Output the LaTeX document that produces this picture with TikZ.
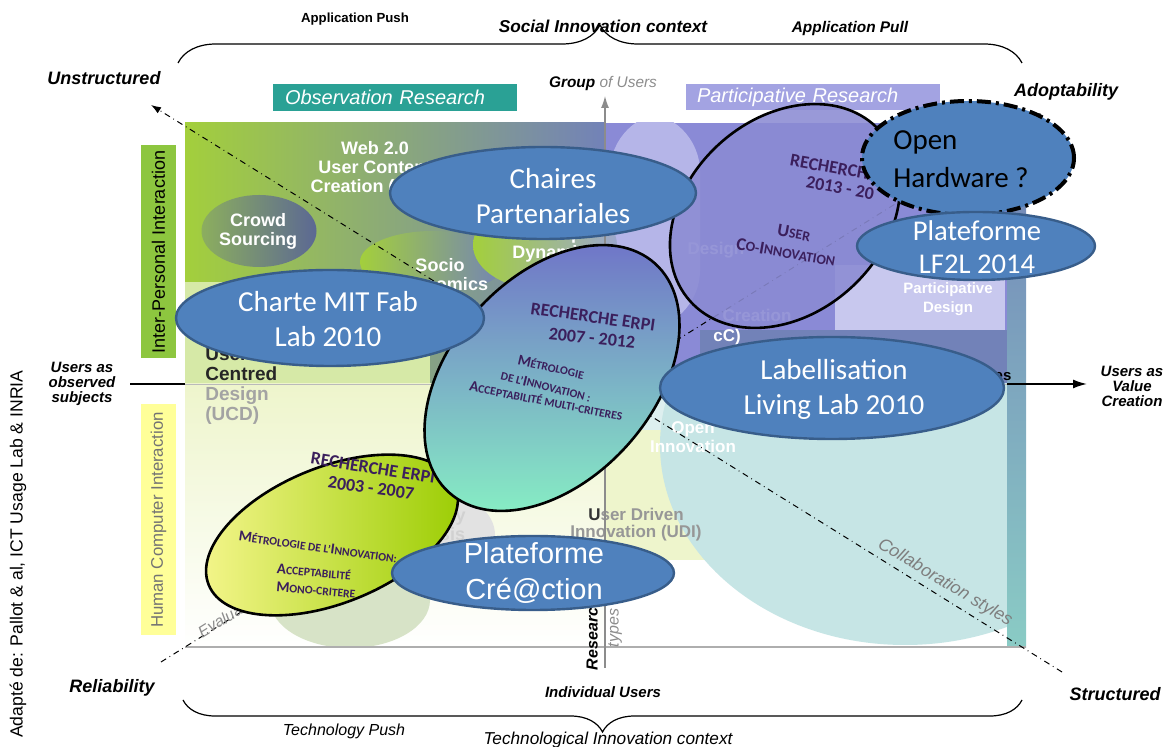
\documentclass[tikz,border=0pt]{standalone}
\usepackage{fontspec}
\setmainfont{Liberation Sans}
\newfontfamily\calfont{Carlito}
\usetikzlibrary{arrows.meta,shapes.geometric,decorations.pathreplacing}
\definecolor{llBlue}{HTML}{4F81BD}
\definecolor{llEdge}{HTML}{385D8A}
\definecolor{llTeal}{HTML}{2AA195}
\definecolor{llLav}{HTML}{A3A3E2}
\definecolor{llGreen}{HTML}{8DC63F}
\definecolor{llLime}{HTML}{A3CF3C}
\definecolor{llOlive}{HTML}{8CAE5E}
\definecolor{llSlate}{HTML}{7282B8}
\definecolor{llYellow}{HTML}{FFFF99}
\definecolor{llPurple}{HTML}{8A8AD6}
\definecolor{llViolet}{HTML}{6E6EC8}
\definecolor{llMint}{HTML}{86EBC4}
\definecolor{llInk}{HTML}{3B1F5C}
\definecolor{llGrey}{HTML}{8C8C8C}
\definecolor{llAqua}{HTML}{B3DCDC}
\definecolor{llPale}{HTML}{EEF5CC}
\definecolor{llSun}{HTML}{F6F68E}
\definecolor{llLeaf}{HTML}{99CC00}
\newcommand{\fsz}[2]{\fontsize{#1}{#2}\selectfont}
\newcommand{\scw}[2]{{\fsz{#1}{#1}#2}}
\tikzset{
  >={Latex[length=5pt,width=3.5pt]},
  bubble/.style={ellipse, draw=llEdge, line width=1.2pt, fill=llBlue, inner sep=0pt},
  btxt/.style={font=\calfont\fsz{14.5}{17.5}, text=white, align=center, inner sep=0pt},
  erpi/.style={ellipse, draw=black, line width=1.3pt, inner sep=0pt},
  inkcap/.style={text=llInk, font=\calfont\bfseries\fsz{9}{9}, inner sep=0pt},
  inksc/.style={text=llInk, font=\calfont\bfseries\fsz{5.8}{6}, inner sep=0pt},
  blob/.style={ellipse, inner sep=0pt},
  soft/.style={font=\bfseries\fsz{9}{9.5}, text=white, align=center, inner sep=0pt},
  faint/.style={font=\bfseries\fsz{8.5}{8.5}, text=llGrey!90, align=center, inner sep=0pt},
  band/.style={font=\itshape\fsz{10}{10}, text=white, inner sep=0pt},
  pole/.style={font=\bfseries\itshape\fsz{9}{9}, inner sep=0pt},
  users/.style={font=\bfseries\itshape\fsz{7.5}{7.5}, align=center, inner sep=0pt},
  diag/.style={dash dot, line width=0.5pt},
  brc/.style={decorate, line width=0.6pt},
}
\begin{document}
\begin{tikzpicture}[x=0.5pt,y=-0.5pt]
\useasboundingbox (0,0) rectangle (1173,747);
% matrix background
\begin{scope}
  \clip (185,123) rectangle (1026,648);
  \fill[left color=llLime, middle color=llOlive, right color=llSlate] (185,123) rectangle (605,384);
  \fill[llLime!45] (185,282) rectangle (430,384);
  \fill[top color=llPale, bottom color=white] (185,384) rectangle (605,648);
  \fill[llPurple] (605,123) rectangle (1007,384);
  \fill[llLav!80, rounded corners=30pt] (610,112) rectangle (700,330);
  \fill[llLav!60] (835,265) rectangle (1005,335);
  \fill[llSlate] (700,330) rectangle (1007,384);
  \fill[white] (605,384) rectangle (1007,648);
  \fill[llAqua!45] (605,384) rectangle (1007,560);
  \fill[llPale] (605,430) rectangle (790,560);
  \begin{scope}
    \clip (605,384) rectangle (1007,648);
    \fill[llAqua!75] (905,445) ellipse [x radius=245, y radius=200];
  \end{scope}
  \fill[top color=llSlate, bottom color=llTeal!55] (1007,123) rectangle (1026,648);
  \fill[llGrey!25] (440,535) ellipse [x radius=55, y radius=42];
  \fill[llOlive!35] (350,600) ellipse [x radius=80, y radius=48];
\end{scope}
\coordinate (bL) at (185,647);
\coordinate (bR) at (1026,647);
\draw[llGrey!70, line width=1pt] (bL) -- (bR);

% blobs of the top-left quadrant
\node[blob, left color=llOlive, right color=llSlate!80!black, minimum width=57.5pt, minimum height=36pt] (crowd) at (259,231) {};
\node[blob, left color=llLime, right color=llSlate, minimum width=73pt, minimum height=31pt] (socio) at (433,262) {};
\node[blob, left color=llLime, right color=llSlate!70, minimum width=72pt, minimum height=45pt] (group) at (545,245) {};
\node[soft] (crowdT) at (258,231) {Crowd\\Sourcing};
\node[soft] (webT) at (375,169) {Web 2.0\\User Content\\Creation (UCC)};
\node[soft] (socioT) at (440,275) {Socio\\Economics};
\node[soft] (groupT) at (555,245) {Group\\Dynamics};
\node[font=\bfseries\fsz{9.5}{10}, align=left, inner sep=0pt, anchor=west] (ucdT) at (205,386)
  {\textcolor{black!85}{User}\\\textcolor{black!85}{Centred}\\\textcolor{llGrey!80}{Design}\\\textcolor{llGrey!80}{(UCD)}};
\node[soft, text=llGrey!40] (usaT) at (428,526) {Usability\\Analysis};
\node[faint] (udiT) at (636,525) {\textcolor{black!80}{U}ser Driven\\Innovation (UDI)};
\node[soft, font=\bfseries\fsz{8.5}{9.5}] (openT) at (693,437) {Open\\Innovation};
\node[soft, font=\bfseries\fsz{7.5}{9.5}] (pdT) at (948,299) {Participative\\Design};
\node[soft, font=\bfseries\fsz{8.5}{8.5}] (cocT) at (727,337) {cC)};
\node[soft, font=\bfseries\fsz{8.5}{8.5}, text=white!80!llLav] (creaT) at (757,315) {Creation};
\node[soft, font=\bfseries\fsz{8.5}{8.5}, text=white!80!llLav] (desT) at (716,250) {Design};
\node[font=\bfseries\fsz{7.5}{7.5}, inner sep=0pt] (esT) at (1003,377) {es};

% side bars and research boxes
\node[fill=llGreen, rotate=90, minimum width=106.5pt, minimum height=17.5pt, inner sep=0pt, font=\fsz{9}{9}] (ipi) at (158.5,252) {Inter-Personal Interaction};
\node[fill=llYellow, rotate=90, minimum width=115.5pt, minimum height=17.5pt, inner sep=0pt, font=\fsz{8.4}{9}, text=black!55] (hci) at (158.5,520) {Human Computer Interaction};
\node[band, fill=llTeal, minimum height=13.5pt, text width=110pt, inner xsep=6pt, align=left] (obs) at (395,97.5) {Observation Research};
\node[band, fill=llLav, minimum height=13pt, text width=116pt, inner xsep=5.5pt, align=left] (par) at (813,97) {Participative Research};

% axes
\coordinate (hL) at (130,384);
\coordinate (mL) at (185,384);
\coordinate (mR) at (1007,384);
\coordinate (hR) at (1087,384);
\draw[line width=0.8pt] (hL) -- (mL);
\draw[llGrey!60, line width=0.4pt] (mL) -- (mR);
\draw[line width=0.8pt, -{Latex[length=7pt,width=4.5pt]}] (mR) -- (hR);
\coordinate (vB) at (605,668);
\coordinate (vT) at (605,96);
\draw[llGrey, line width=0.6pt, -{Latex[length=6pt,width=4pt]}] (vB) -- (vT);
\node[font=\bfseries\itshape\fsz{7.7}{8}, inner sep=0pt] (grpT) at (603,84) {Group \textcolor{llGrey}{\mdseries of Users}};
\node[font=\bfseries\itshape\fsz{8}{8}, rotate=90, inner sep=0pt] (resT) at (592,634) {Research};
\node[font=\itshape\fsz{8}{8}, text=llGrey, rotate=90, inner sep=0pt] (typT) at (615,628) {types};

% diagonals
\coordinate (uS) at (151,105);
\coordinate (sT) at (1062,672);
\coordinate (rE) at (161,662);
\coordinate (aD) at (1041,113);
\draw[diag, ->] (sT) -- (uS);
\draw[diag, ->] (rE) -- (aD);
\node[font=\itshape\fsz{8}{8}, text=llGrey, rotate=32, inner sep=0pt] (evT) at (231,614) {Evaluation};
\node[font=\itshape\fsz{8.8}{8.8}, text=llGrey!90!black, rotate=-31, inner sep=0pt] (colT) at (945,583) {Collaboration styles};

% research ellipses
\node[erpi, minimum width=133pt, minimum height=68pt, rotate=22, left color=llSun, right color=llLeaf] (e03) at (332,535) {};
\node[inkcap, rotate=-9] (e03a) at (373,468) {RECHERCHE ERPI};
\node[inkcap, rotate=-8] (e03b) at (371,488) {2003 - 2007};
\node[inksc, rotate=-8] (e03c) at (318,547) {\scw{7.5}{M}ÉTROLOGIE DE L’\scw{7.5}{I}NNOVATION:};
\node[inksc, rotate=-5] (e03d) at (314,572) {\scw{7.5}{A}CCEPTABILITÉ};
\node[inksc, rotate=-5] (e03e) at (316,590) {\scw{7.5}{M}ONO-CRITERE};

\node[erpi, minimum width=154pt, minimum height=101pt, rotate=48, top color=llViolet, bottom color=llMint] (e07) at (552,378) {};
\node[inkcap, rotate=-8] (e07a) at (593,317) {RECHERCHE ERPI};
\node[inkcap, rotate=-6] (e07b) at (592,338) {2007 - 2012};
\node[inksc, rotate=-13] (e07c) at (551,367) {\scw{7.5}{M}ÉTROLOGIE};
\node[inksc, rotate=-14] (e07d) at (546,386) {DE L’\scw{7.5}{I}NNOVATION :};
\node[inksc, rotate=-11] (e07e) at (546,401) {\scw{7.5}{A}CCEPTABILITÉ MULTI-CRITERES};

\node[erpi, minimum width=127.5pt, minimum height=97.5pt, rotate=42, fill=llViolet!80!white, fill opacity=0.88] (e13) at (785,216) {};
\node[inkcap, rotate=-10, anchor=west] (e13a) at (790,160) {RECHERCHE ERPI};
\node[inkcap, rotate=-10, anchor=west] (e13b) at (806,182) {2013 - 20};
\node[inksc, font=\calfont\bfseries\fsz{7}{7}, rotate=-10] (e13c) at (794,233) {\scw{9}{U}SER};
\node[inksc, font=\calfont\bfseries\fsz{7}{7}, rotate=-10] (e13d) at (786,252) {\scw{9}{C}O-\scw{9}{I}NNOVATION};

% open hardware
\node[bubble, draw=black, line width=2pt, dash pattern=on 7pt off 2.5pt on 1.5pt off 2.5pt, minimum width=106pt, minimum height=57pt] (ohw) at (968,158) {};
\node[btxt, text=black, align=left, font=\calfont\fsz{14.5}{19}] (ohwT) at (961,159) {Open\\Hardware ?};

% milestone bubbles
\node[bubble, minimum width=119pt, minimum height=34pt] (lf2l) at (976,246) {};
\node[btxt, font=\calfont\fsz{14.3}{16.5}] (lf2lT) at (977,247) {Plateforme\\LF2L 2014};
\node[bubble, minimum width=153pt, minimum height=46pt] (chaires) at (543,193) {};
\node[btxt] (chairesT) at (553,196) {Chaires\\Partenariales};
\node[bubble, minimum width=154pt, minimum height=48pt] (charte) at (330,318) {};
\node[btxt] (charteT) at (328,319) {Charte MIT Fab\\Lab 2010};
\node[bubble, minimum width=172pt, minimum height=51pt] (label) at (832,388) {};
\node[btxt] (labelT) at (834,389) {Labellisation\\Living Lab 2010};
\node[bubble, minimum width=141pt, minimum height=37pt] (creaction) at (533,573) {};
\node[btxt, font=\fsz{14.5}{17.5}] (creactionT) at (534,573) {Plateforme\\Cré@ction};

% outer labels
\node[pole] (unst) at (104,78) {Unstructured};
\node[pole] (adop) at (1066,92) {Adoptability};
\node[pole] (reli) at (112,688) {Reliability};
\node[pole] (stru) at (1115,694) {Structured};
\node[users] (obsU) at (82,384) {Users as\\observed\\subjects};
\node[users] (valU) at (1132,386) {Users as\\Value\\Creation};
\node[font=\bfseries\fsz{6.6}{7}, inner sep=0pt] (apush) at (355,19) {Application Push};
\node[font=\bfseries\itshape\fsz{8.6}{9}, inner sep=0pt] (soc) at (603,26) {Social Innovation context};
\node[font=\bfseries\itshape\fsz{7.7}{8}, inner sep=0pt] (apull) at (850,29) {Application Pull};
\node[font=\bfseries\itshape\fsz{7.5}{8}, inner sep=0pt] (indiv) at (603,692) {Individual Users};
\node[font=\itshape\fsz{8}{8}, inner sep=0pt] (tpush) at (344,731) {Technology Push};
\node[font=\itshape\fsz{8.6}{9}, inner sep=0pt] (tech) at (608,740) {Technological Innovation context};
\node[rotate=90, anchor=east, font=\fsz{8.8}{10}, inner sep=0pt] (src) at (18,370) {Adapté de: Pallot \& al, ICT Usage Lab \& INRIA};

% braces
\coordinate (tbL) at (178,63);
\coordinate (tbR) at (1022,63);
\draw[brc, decoration={brace, amplitude=19pt}] (tbL) -- (tbR);
\coordinate (bbR) at (1022,700);
\coordinate (bbL) at (183,700);
\draw[brc, decoration={brace, amplitude=16pt}] (bbR) -- (bbL);
\end{tikzpicture}
\end{document}
